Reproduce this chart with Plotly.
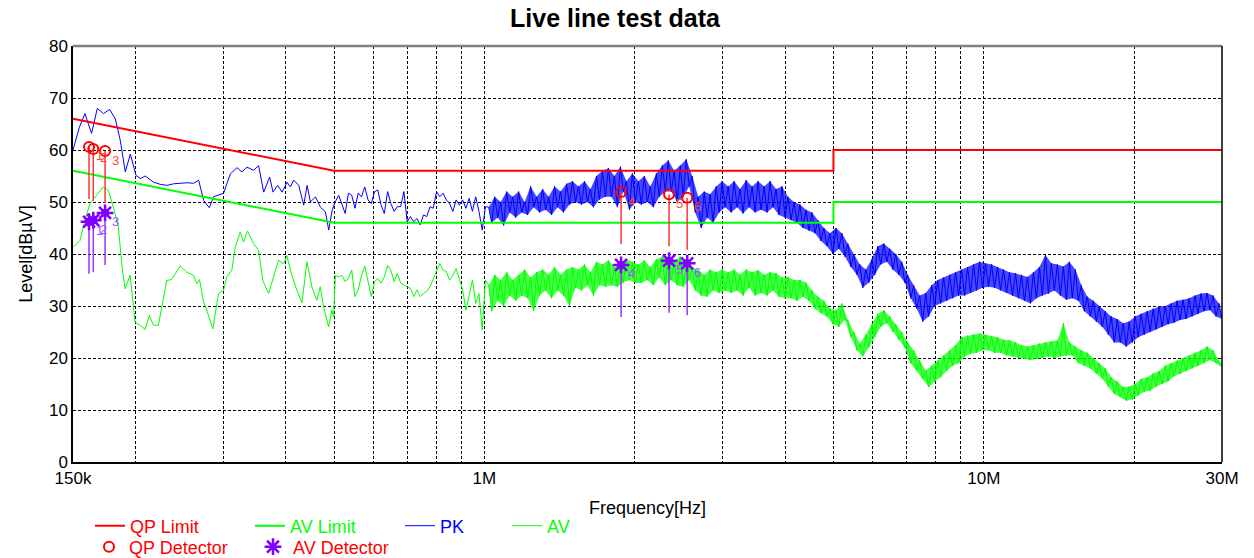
import numpy as np
import plotly.graph_objects as go

# ---------------- data (frequency in MHz, level in dBuV) ----------------
LIMIT_FREQ = [0.15, 0.5, 5.0, 5.0, 30.0]
QP_LIMIT = [66, 56, 56, 60, 60]
AV_LIMIT = [56, 46, 46, 50, 50]

# segment A: 150 kHz - 500 kHz, sweep points
PK_FREQ_A = [0.150, 0.1545, 0.1585, 0.1634, 0.1678, 0.1726, 0.1776, 0.1823, 0.1865, 0.1909,
             0.1954, 0.2006, 0.2046, 0.2094, 0.2175, 0.2243, 0.2314, 0.2385, 0.2460, 0.2537,
             0.2616, 0.2677, 0.2740, 0.2812, 0.2869, 0.3004, 0.3098, 0.3195, 0.3269, 0.3346,
             0.3450, 0.3530, 0.3614, 0.3715, 0.3773, 0.3855, 0.3934, 0.4025, 0.4087, 0.4151,
             0.4248, 0.4346, 0.4415, 0.4483, 0.4588, 0.4695, 0.4804, 0.4878, 0.4955]
PK_A = [60, 64.4, 67, 63.2, 68, 67, 67.8, 66, 61.9, 55.8,
        59.2, 55.1, 54.5, 55, 53.8, 53.4, 53.2, 53.5, 53.6, 53.7,
        53.6, 54.2, 50.3, 48.9, 51, 51.7, 55.4, 56.6, 55.8, 56.7,
        56.1, 57, 51.9, 54.8, 51.9, 53.2, 51.9, 53.8, 52.9, 54.2,
        53.2, 49.4, 53.2, 50, 51, 49, 48.1, 44.6, 48.4]

AV_FREQ_A = [0.1502, 0.1549, 0.1585, 0.1622, 0.1673, 0.1725, 0.1766, 0.1807, 0.1849, 0.1878,
             0.1907, 0.1952, 0.1997, 0.2044, 0.2091, 0.2134, 0.2173, 0.2224, 0.2311, 0.2365,
             0.2458, 0.2535, 0.2614, 0.2655, 0.2688, 0.2738, 0.2802, 0.2858, 0.2934, 0.3002,
             0.3049, 0.3120, 0.3169, 0.3243, 0.3293, 0.3354, 0.3449, 0.3529, 0.3600, 0.3696,
             0.3782, 0.3870, 0.3961, 0.4022, 0.4116, 0.4212, 0.4311, 0.4411, 0.4514, 0.4619,
             0.4691, 0.4764, 0.4875, 0.4951, 0.4989]
AV_A = [41.3, 42.6, 46.5, 49.7, 51.3, 52.9, 52.2, 49, 45.2, 38.1,
        33.3, 35.9, 26.9, 26.3, 25.5, 28.2, 26.3, 26.3, 34.9, 35.1,
        37.7, 36.5, 35.9, 34.3, 35.1, 30.8, 28.2, 25.6, 32.4, 33,
        35.6, 36.9, 41.3, 44.2, 42.3, 44.4, 42, 40.7, 34.9, 32.4,
        35.6, 38.8, 38.1, 39.7, 35.9, 33, 30.6, 38.5, 33.7, 31.1,
        33.7, 29.8, 26, 29.2, 27.9]

# segment B: 0.503 - 1.005 MHz, 47 log-spaced sweep points
SWEEP_B = (0.503, 1.005, 47)
PK_B = [50.1, 51.3, 49.7, 47.8, 51.7, 51.3, 48.8, 51.7, 51.0, 52.9,
        50.4, 49.7, 52, 52.3, 49.4, 47.8, 52, 49.7, 48.2, 49.1,
        49.1, 52, 46.2, 47.2, 46.2, 46.8, 45.6, 47.5, 47.2, 49.1,
        48.8, 52, 51, 51.7, 50.4, 49.7, 48.2, 50.4, 49.4, 50.4,
        48.8, 50.7, 48.2, 51, 48.2, 44.6, 49.1]
AV_B = [35.9, 35.6, 35.9, 34.7, 35.3, 36.9, 31.8, 33.1, 35.9, 37.7,
        35, 31.8, 34.7, 35.3, 34.4, 35.6, 37.8, 36.9, 34.7, 36.3,
        34.4, 34, 33.7, 33.4, 31.8, 33.1, 31.8, 32.4, 32.8, 33.7,
        35.3, 36.9, 38.2, 36.9, 36.6, 35, 35.9, 37.2, 35, 33.1,
        29.2, 31.8, 35, 30.5, 32.4, 25.4, 35]

# segment C: 1.02 - 30 MHz, 246 log-spaced sweep points (alternating peak / trough)
SWEEP_C = (1.02, 30.0, 246)
PK_C = [49, 46, 51, 47, 50, 45.5, 52, 48, 51, 47,
        52, 48, 50, 47.5, 53, 49, 51, 48, 52.5, 48.5,
        51, 47.5, 53, 49, 52, 48, 53.5, 49.5, 54, 50,
        53, 49.5, 54, 50, 52.5, 49, 55, 50.5, 56, 51,
        56.5, 51, 55, 49, 56.8, 52, 54, 48.5, 55.5, 50,
        54, 49.5, 55, 50, 53, 49, 55.5, 51, 57, 52,
        58, 52, 56, 50, 57, 51, 58.2, 53, 55, 48,
        51, 45, 52, 47, 51.5, 46, 53, 48, 54, 49,
        53, 48, 54, 49, 52.5, 47.8, 54.2, 49, 53, 48,
        54, 48.5, 53, 48, 54, 49, 52.5, 47.5, 53, 47,
        51, 46.5, 50, 46, 49.5, 45, 48.5, 44.5, 48, 44,
        46.5, 42.5, 45, 41.5, 44, 40, 45, 41, 44, 39.5,
        42, 37.5, 40, 36, 38, 33.5, 37, 34.5, 39, 36,
        41.5, 38, 42, 38.5, 41, 37, 40, 36, 38.5, 34.5,
        36, 31.5, 34, 29.5, 32, 27, 32.5, 28, 34, 30,
        35, 30.5, 35.5, 31, 36, 31.5, 36.5, 32, 37, 32,
        37.5, 32.5, 38, 33, 38.5, 33.5, 38.2, 33.7, 38, 33.5,
        37.5, 33, 37, 32.5, 36.5, 32, 36.3, 31.5, 36, 31,
        35.6, 30.5, 36.5, 31.5, 37.5, 32, 39.8, 32.4, 38.2, 33,
        38, 32, 37.6, 31.2, 38.5, 31.5, 37, 31, 34, 29,
        31.8, 28, 31, 27, 30, 26, 29, 24.5, 28, 23,
        27.5, 23, 26.7, 22.2, 27, 23, 28, 24, 28.5, 24.5,
        29, 25, 29.5, 25.5, 29.9, 26, 30, 26.5, 30.5, 26.8,
        31, 27.3, 31.2, 27.5, 31.5, 28, 32, 28.5, 32.4, 29,
        32.5, 29.2, 32, 28, 30.5, 27.5]
AV_C = [34, 29, 36, 31, 35, 30, 36.5, 32, 35, 31,
        36, 32, 37, 31.5, 35.5, 29, 36.5, 32, 37, 33,
        36, 31.5, 37.5, 33, 36, 32, 37, 30, 37.5, 33.5,
        37, 33, 38, 34, 36.5, 32, 38.5, 34, 38, 33.7,
        38.8, 34, 37.5, 33.7, 38, 34.5, 39, 35, 38.5, 34.4,
        38, 34.4, 38.8, 35, 37.5, 34, 39, 35.5, 39.5, 34,
        39, 35, 38.5, 34, 39.5, 33.7, 38, 35, 37.5, 33,
        36.9, 32, 36, 31.8, 37, 33, 36.5, 32.5, 37, 33,
        36.5, 32.5, 37, 33, 36, 32, 37, 33.5, 36.5, 32,
        36.9, 32.5, 36, 32, 36.5, 33, 36.3, 31.8, 35.5, 31.5,
        35.6, 31.5, 35, 31, 35, 31.8, 34.5, 31, 33, 29.5,
        31.8, 28.6, 31, 28, 29.5, 26.5, 29.2, 26, 30.5, 27.3,
        27.3, 24, 25, 21.5, 22.8, 20.3, 24.5, 22, 26.5, 24,
        28.5, 26, 29.2, 26.7, 28, 25, 26.5, 23.5, 25, 22,
        23, 19, 21.5, 17.6, 19.5, 16, 17.6, 14.4, 18.5, 15.5,
        19.5, 16.3, 20.5, 17.5, 21.5, 18.5, 22.5, 19, 24, 20.3,
        24.3, 20.8, 24.5, 21, 24.7, 21.5, 24.5, 21.5, 24.2, 21,
        24, 21, 23.5, 20.5, 23.4, 20.3, 23, 20, 22.5, 19.8,
        22.2, 19.6, 22.5, 19.8, 22.8, 20, 23, 20.3, 23.2, 20,
        23.4, 20.3, 26.7, 20.5, 23, 20.5, 22.2, 19, 21.5, 18.5,
        21, 18, 20, 17, 19, 16, 18, 14.5, 16.3, 13.1,
        15.5, 12.5, 14.4, 11.8, 14.5, 12, 15, 12.8, 16, 13.5,
        16.3, 13.7, 17, 14.5, 17.5, 15, 18.5, 15.5, 19, 16.5,
        19.5, 16.9, 20, 17.5, 20.5, 18, 21, 18.5, 21.5, 19,
        22.2, 19.6, 21.5, 19, 19.5, 18.2]

# final detector readings
DET_FREQ = [0.1615, 0.1647, 0.1739, 1.878, 2.343, 2.547]
QP_DET = [60.6, 60.2, 59.8, 51.9, 51.5, 50.8]
AV_DET = [46.2, 46.5, 47.9, 37.9, 38.7, 38.2]
DET_LABELS = ["1", "2", "3", "4", "5", "6"]
STICK_LEN = 10

# axis ticks
TICK_VALS = [0.15, 0.2, 0.3, 0.4, 0.5, 0.6, 0.7, 0.8, 0.9, 1, 2, 3, 4, 5, 6, 7, 8, 9, 10, 20, 30]
TICK_TEXT = ["150k", "", "", "", "", "", "", "", "", "1M", "", "", "", "", "", "", "", "", "10M", "", "30M"]
Y_TICKS = [0, 10, 20, 30, 40, 50, 60, 70, 80]

# ---------------- assemble sweeps ----------------
f_c = np.geomspace(*SWEEP_C)
pk_f = np.concatenate([PK_FREQ_A, np.geomspace(*SWEEP_B), f_c])
pk_v = np.concatenate([PK_A, PK_B, PK_C])
av_f = np.concatenate([AV_FREQ_A, np.geomspace(*SWEEP_B), f_c])
av_v = np.concatenate([AV_A, AV_B, AV_C])


def band(freqs, vals):
    """closed polygon through the peak samples and back through the trough samples"""
    freqs = np.asarray(freqs)
    vals = np.asarray(vals)
    xs = np.concatenate([freqs[0::2], freqs[1::2][::-1]])
    ys = np.concatenate([vals[0::2], vals[1::2][::-1]])
    return xs, ys


def sticks(freqs, vals):
    xs, ys = [], []
    for f, v in zip(freqs, vals):
        xs += [f, f, None]
        ys += [v, v - STICK_LEN, None]
    return xs, ys


FONT = "Liberation Sans, Arial, sans-serif"
RED = "#FF0000"
GREEN = "#00FF00"
BLUE = "#0000FF"
PURPLE = "#8000FF"

fig = go.Figure()

bx, by = band(f_c, AV_C)
fig.add_trace(go.Scatter(x=bx, y=by, mode="lines", fill="toself", showlegend=False,
                         fillcolor="rgba(0,255,0,0.72)", line=dict(width=0), hoverinfo="skip"))
fig.add_trace(go.Scatter(x=av_f, y=av_v, mode="lines", name="AV",
                         line=dict(color=GREEN, width=1), legend="legend4"))
bx, by = band(f_c, PK_C)
fig.add_trace(go.Scatter(x=bx, y=by, mode="lines", fill="toself", showlegend=False,
                         fillcolor="rgba(0,0,255,0.72)", line=dict(width=0), hoverinfo="skip"))
fig.add_trace(go.Scatter(x=pk_f, y=pk_v, mode="lines", name="PK",
                         line=dict(color=BLUE, width=1), legend="legend3"))
fig.add_trace(go.Scatter(x=LIMIT_FREQ, y=QP_LIMIT, mode="lines", name="QP Limit",
                         line=dict(color=RED, width=2), legend="legend"))
fig.add_trace(go.Scatter(x=LIMIT_FREQ, y=AV_LIMIT, mode="lines", name="AV Limit",
                         line=dict(color=GREEN, width=2), legend="legend2"))

qx, qy = sticks(DET_FREQ, QP_DET)
fig.add_trace(go.Scatter(x=qx, y=qy, mode="lines", showlegend=False,
                         line=dict(color="#FF3333", width=1.5)))
ax_, ay_ = sticks(DET_FREQ, AV_DET)
fig.add_trace(go.Scatter(x=ax_, y=ay_, mode="lines", showlegend=False,
                         line=dict(color="#9933FF", width=1.5)))

fig.add_trace(go.Scatter(x=DET_FREQ, y=QP_DET, mode="markers", name="QP Detector",
                         marker=dict(symbol="circle-open", size=10, color=RED,
                                     line=dict(width=2, color=RED)),
                         legend="legend5"))
fig.add_trace(go.Scatter(x=DET_FREQ, y=AV_DET, mode="markers", showlegend=False,
                         marker=dict(symbol="circle", size=8, color=PURPLE)))
fig.add_trace(go.Scatter(x=DET_FREQ, y=AV_DET, mode="markers", name="AV Detector",
                         marker=dict(symbol="asterisk-open", size=14, color=PURPLE,
                                     line=dict(width=2.5, color=PURPLE)),
                         legend="legend6"))

annotations = []
for f, v, lab in zip(DET_FREQ, QP_DET, DET_LABELS):
    annotations.append(dict(x=np.log10(f), y=v, xref="x", yref="y", text=lab,
                            showarrow=False, xshift=10, yshift=-9,
                            font=dict(family=FONT, size=13, color="#FF4A30")))
for f, v, lab in zip(DET_FREQ, AV_DET, DET_LABELS):
    annotations.append(dict(x=np.log10(f), y=v, xref="x", yref="y", text=lab,
                            showarrow=False, xshift=10, yshift=-9,
                            font=dict(family=FONT, size=13, color="#9955FF")))

L, R, T, B = 73, 32, 46, 96
W, H = 1254, 558
PW, PH = W - L - R, H - T - B


def px_x(px):
    return (px - L) / PW


def px_y(py):
    return (H - B - py) / PH


def leg(xpx, ypx, color):
    return dict(x=px_x(xpx), y=px_y(ypx), xanchor="left", yanchor="middle",
                orientation="h", bgcolor="rgba(0,0,0,0)", borderwidth=0,
                font=dict(family=FONT, size=18, color=color), itemwidth=30)


fig.update_layout(
    width=W, height=H,
    margin=dict(l=L, r=R, t=T, b=B, autoexpand=False),
    paper_bgcolor="white", plot_bgcolor="white",
    font=dict(family=FONT, size=17, color="black"),
    title=dict(text="<b>Live line test data</b>", x=615 / W, xref="container",
               xanchor="center", y=1 - 18 / H, yref="container", yanchor="middle",
               font=dict(family=FONT, size=25, color="black")),
    showlegend=True,
    legend=leg(90, 526, RED),
    legend2=leg(250, 526, GREEN),
    legend3=leg(400, 526, BLUE),
    legend4=leg(507, 526, GREEN),
    legend5=leg(89, 547, RED),
    legend6=leg(253, 547, RED),
    annotations=annotations,
    xaxis=dict(type="log", range=[np.log10(0.15), np.log10(30)],
               tickmode="array", tickvals=TICK_VALS, ticktext=TICK_TEXT,
               showgrid=True, gridcolor="black", griddash="3px,2px", gridwidth=1,
               showline=True, linecolor="black", linewidth=1.5, ticks="",
               zeroline=False, tickfont=dict(size=17),
               title=dict(text="Frequency[Hz]", font=dict(size=18), standoff=14)),
    yaxis=dict(range=[0, 80], tickmode="array", tickvals=Y_TICKS,
               showgrid=True, gridcolor="black", griddash="3px,2px", gridwidth=1,
               showline=True, linecolor="black", linewidth=1.5, ticks="",
               zeroline=False, tickfont=dict(size=17),
               title=dict(text="Level[dBµV]", font=dict(size=18), standoff=12)),
    shapes=[
        dict(type="line", xref="paper", yref="paper", x0=0, x1=1, y0=1, y1=1,
             line=dict(color="#808080", width=2.5), layer="above"),
        dict(type="line", xref="paper", yref="paper", x0=1, x1=1, y0=0, y1=1,
             line=dict(color="black", width=1.5), layer="above"),
    ],
)

fig.write_html("out.html", config={"displayModeBar": False},
               post_script="document.body.style.margin='0';")
